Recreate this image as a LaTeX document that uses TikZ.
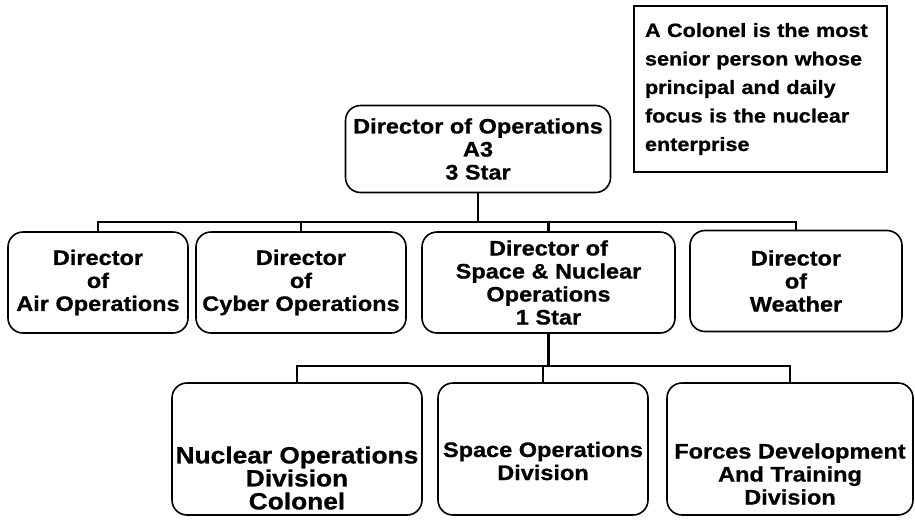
\documentclass[tikz,border=0pt]{standalone}
\usepackage{fontspec}
\setmainfont{Liberation Sans}[FakeStretch=1.12, BoldFeatures={FakeBold=0.8}]
\usetikzlibrary{positioning}

\tikzset{
    post/.style={draw, line width=1.6pt, rounded corners=15pt, align=center, inner sep=2pt,
        font=\fontsize{21}{23}\selectfont\bfseries},
    lbl/.style={align=center, inner sep=0pt, font=\fontsize{21}{23}\selectfont\bfseries},
    link/.style={draw, line width=2.2pt},
}

\begin{document}
\begin{tikzpicture}[x=1pt,y=-1pt]
    \useasboundingbox (0,0) rectangle (915,520);
    % top of the chart
    \node[post, minimum width=265pt, minimum height=87pt] (dirops) at (478,149) {Director of Operations\\A3\\3 Star};
    \node[draw, line width=2.4pt, minimum width=253pt, minimum height=166pt, text width=231pt, inner xsep=11pt, align=left,
        font=\fontsize{19.3}{28.5}\selectfont\bfseries] (note) at (760.5,89)
        {A Colonel is the most\\senior person whose\\principal and daily\\focus is the nuclear\\enterprise};
    % directors
    \node[post, minimum width=180pt, minimum height=101pt] (air) at (98,282.5) {Director\\of\\Air Operations};
    \node[post, minimum width=210pt, minimum height=101pt] (cyber) at (301,282.5) {Director\\of\\Cyber Operations};
    \node[post, minimum width=253pt, minimum height=101pt] (spacenuc) at (548.5,282.5) {Director of\\Space \& Nuclear\\Operations\\1 Star};
    \node[post, minimum width=212pt, minimum height=101pt] (weather) at (796,281) {Director\\of\\Weather};
    % divisions
    \node[post, minimum width=250pt, minimum height=132pt,
        label={[name=nucops-t, lbl, font=\fontsize{23.5}{23}\selectfont\bfseries, yshift=-29pt]center:Nuclear Operations\\Division\\Colonel}] (nucops) at (297,449) {};
    \node[post, minimum width=210pt, minimum height=132pt,
        label={[name=spaceops-t, lbl, yshift=-12pt]center:Space Operations\\Division}] (spaceops) at (543,449) {};
    \node[post, minimum width=246pt, minimum height=132pt,
        label={[name=forces-t, lbl, yshift=-25pt]center:Forces Development\\And Training\\Division}] (forces) at (790,449) {};

    % connectors
    \draw[link] (dirops.south) -- ++(0,29) coordinate (bus1);
    \foreach \n in {air,cyber,spacenuc,weather}
        \draw[link] (\n.north) |- (bus1);
    \draw[link] (spacenuc.south) -- ++(0,32) coordinate (bus2);
    \foreach \n in {nucops,spaceops,forces}
        \draw[link] (\n.north) |- (bus2);
\end{tikzpicture}
\end{document}
